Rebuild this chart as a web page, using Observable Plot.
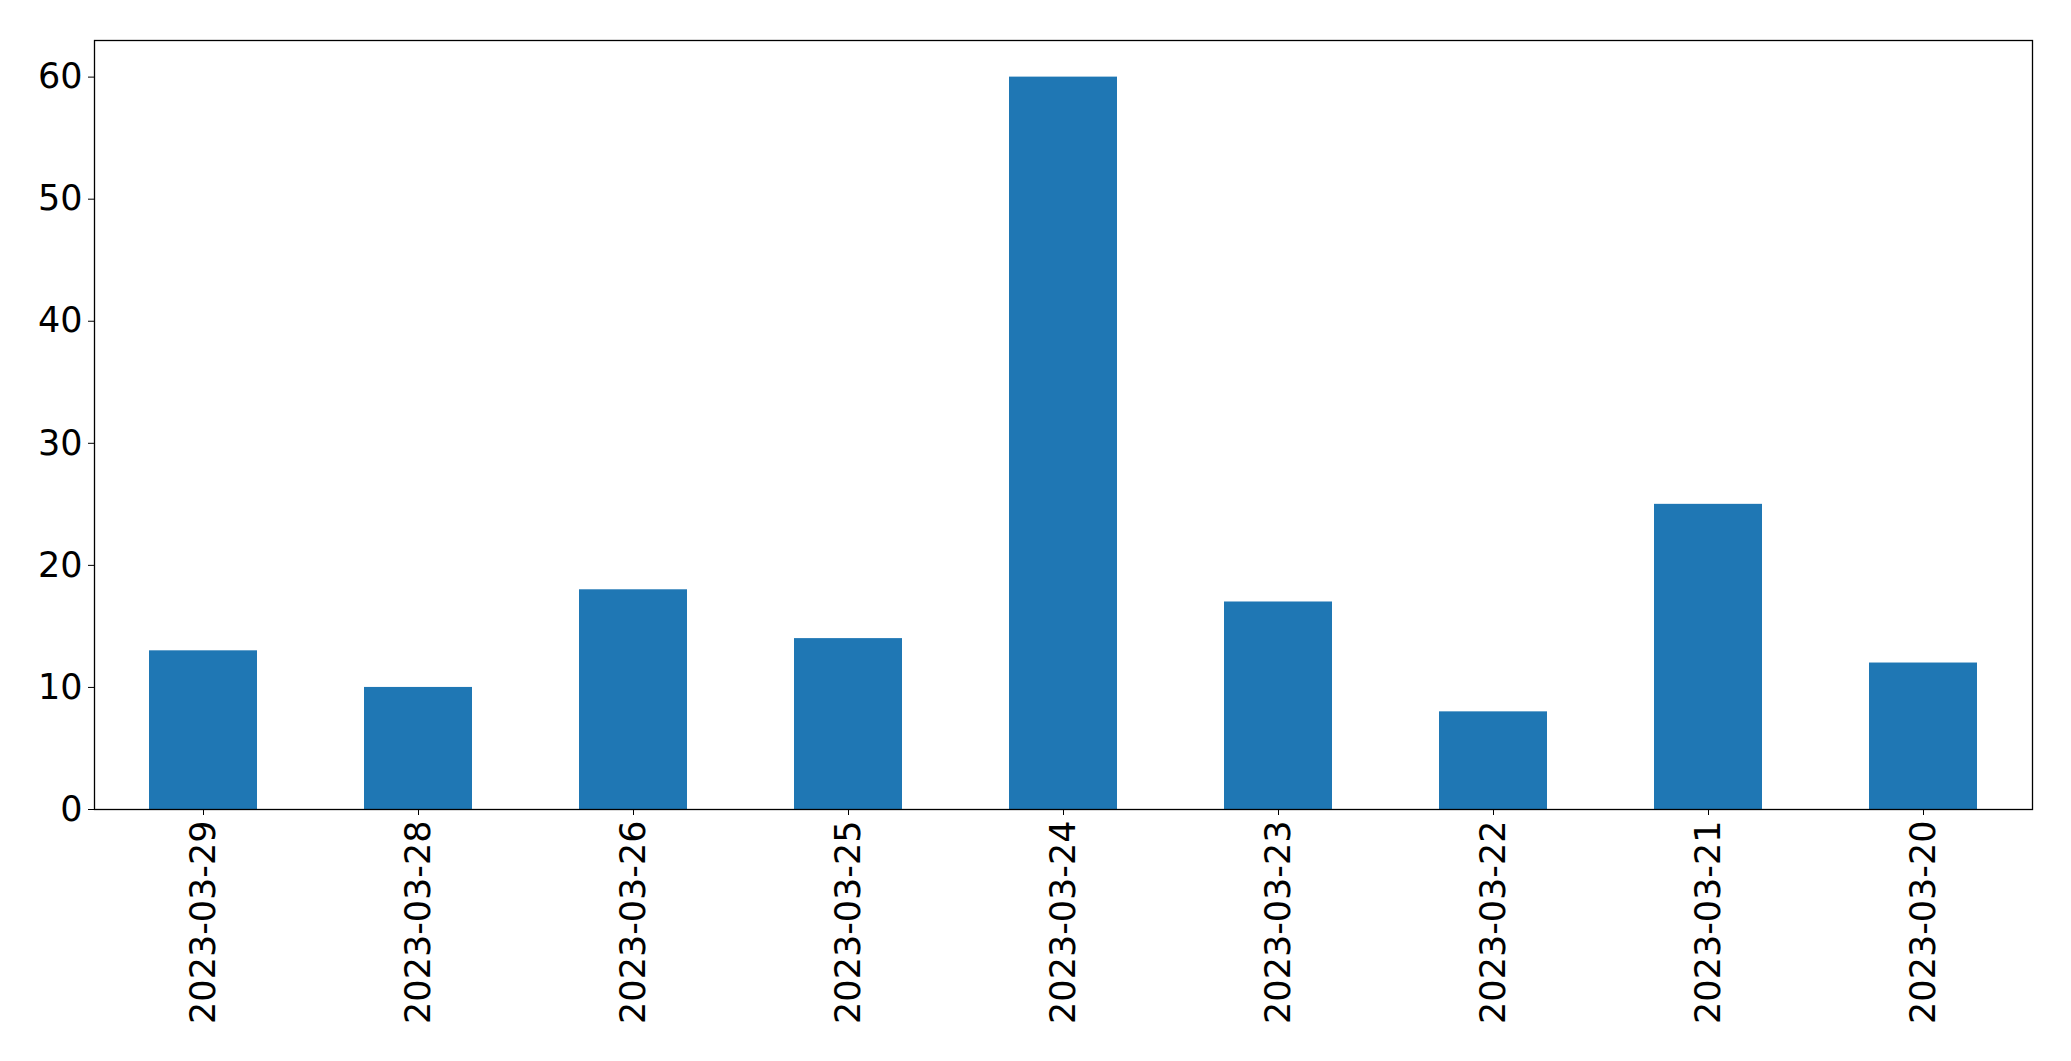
<!DOCTYPE html>
<html>
<head>
<meta charset="utf-8">
<script src="https://cdn.jsdelivr.net/npm/d3@7"></script>
<script src="https://cdn.jsdelivr.net/npm/@observablehq/plot@0.6"></script>
<style>
  html, body { margin: 0; padding: 0; background: #fff; overflow: hidden; }
  #chart svg { display: block; }
</style>
</head>
<body>
<div id="chart"></div>
<script>
const dates = ["2023-03-29", "2023-03-28", "2023-03-26", "2023-03-25", "2023-03-24", "2023-03-23", "2023-03-22", "2023-03-21", "2023-03-20"];
const counts = [13, 10, 18, 14, 60, 17, 8, 25, 12];
const yTicks = [0, 10, 20, 30, 40, 50, 60];

const data = dates.map((d, i) => ({date: d, count: counts[i]}));

const chart = Plot.plot({
  width: 2071,
  height: 1061,
  marginLeft: 94,
  marginTop: 40,
  marginRight: 39,
  marginBottom: 252,
  style: {fontFamily: "'DejaVu Sans', sans-serif", fontSize: "35px", color: "#000", background: "#fff"},
  x: {domain: dates, paddingInner: 0.5, paddingOuter: 0.25, label: null},
  y: {domain: [0, 63], label: null},
  marks: [
    Plot.barY(data, {x: "date", y: "count", fill: "#1f77b4"}),
    Plot.frame({stroke: "#000", strokeWidth: 1.3}),
    Plot.axisY({ticks: yTicks, tickSize: 6, tickPadding: 6, label: null, fontSize: 35, stroke: "#000", strokeOpacity: 1}),
    Plot.axisX({tickSize: 6, tickPadding: 5, tickRotate: -90, label: null, fontSize: 35, stroke: "#000", strokeOpacity: 1})
  ]
});
document.getElementById("chart").appendChild(chart);
</script>
</body>
</html>
